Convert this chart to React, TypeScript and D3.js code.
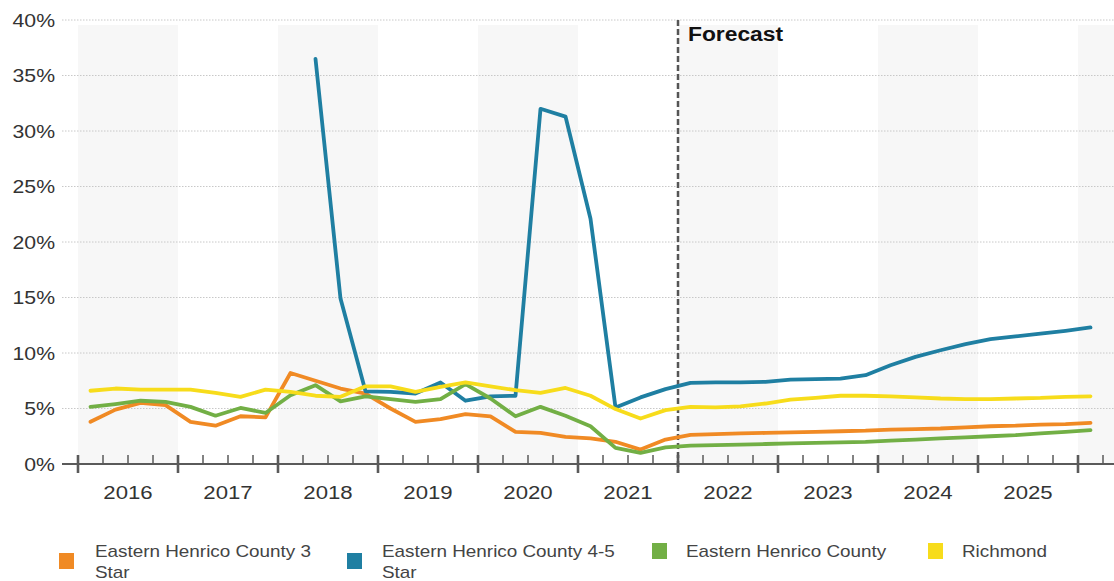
import React from "react";
import * as d3 from "d3";

const years = [2016, 2017, 2018, 2019, 2020, 2021, 2022, 2023, 2024, 2025, 2026];
const yTicks = [0, 5, 10, 15, 20, 25, 30, 35, 40];
const forecastStart = 2022;

const orange3Star = [
  3.8, 4.9, 5.5, 5.3,
  3.8, 3.45, 4.3, 4.2,
  8.2, 7.5, 6.8, 6.35,
  5.0, 3.8, 4.05, 4.5,
  4.3, 2.9, 2.8, 2.45,
  2.3, 2.0, 1.3, 2.2,
  2.62, 2.7, 2.75, 2.8,
  2.85, 2.9, 2.95, 3.0,
  3.1, 3.15, 3.2, 3.3,
  3.4, 3.45, 3.55, 3.6,
  3.7,
];
const blue45Star = [
  null, null, null, null,
  null, null, null, null,
  null, 36.5, 14.9, 6.55,
  6.5, 6.35, 7.35, 5.7,
  6.1, 6.15, 32.0, 31.3,
  22.1, 5.1, 6.0, 6.75,
  7.3, 7.35, 7.35, 7.4,
  7.6, 7.65, 7.7, 8.0,
  8.9, 9.65, 10.25, 10.8,
  11.25, 11.5, 11.75, 12.0,
  12.3,
];
const greenCounty = [
  5.15, 5.4, 5.7, 5.6,
  5.15, 4.35, 5.05, 4.6,
  6.2, 7.1, 5.65, 6.1,
  5.85, 5.6, 5.85, 7.2,
  5.9, 4.3, 5.15, 4.35,
  3.4, 1.45, 1.0, 1.5,
  1.65, 1.7, 1.75, 1.8,
  1.85, 1.9, 1.95, 2.0,
  2.1, 2.2, 2.3, 2.4,
  2.5, 2.6, 2.75, 2.9,
  3.05,
];
const yellowRichmond = [
  6.6, 6.8, 6.7, 6.7,
  6.7, 6.4, 6.05, 6.7,
  6.5, 6.15, 6.05, 7.0,
  7.0, 6.5, 6.95, 7.35,
  7.0, 6.65, 6.4, 6.85,
  6.15, 4.95, 4.1, 4.85,
  5.15, 5.1, 5.2, 5.45,
  5.8, 5.95, 6.15, 6.15,
  6.1, 6.0, 5.9, 5.85,
  5.85, 5.9, 5.95, 6.05,
  6.1,
];

const seriesNames = [
  ["Eastern Henrico County 3", "Star"],
  ["Eastern Henrico County 4-5", "Star"],
  ["Eastern Henrico County"],
  ["Richmond"],
];
const seriesColors = ["#F08A24", "#1F7FA2", "#72AF45", "#F7DC1B"];
const seriesData = [orange3Star, blue45Star, greenCounty, yellowRichmond];

const FONT = "'Liberation Sans', Arial, sans-serif";
const SX = 1.18;

function SText({ x, y, anchor = "start", size, weight = "normal", fill, sx = SX, children }: any) {
  return (
    <text
      transform={`translate(${x},${y}) scale(${sx},1)`}
      textAnchor={anchor}
      fontFamily={FONT}
      fontSize={size}
      fontWeight={weight}
      fill={fill}
    >
      {children}
    </text>
  );
}

export default function App() {
  const W = 1114;
  const H = 581;
  const x = d3.scaleLinear().domain([2016, 2026]).range([78, 1078]);
  const y = d3.scaleLinear().domain([0, 40]).range([464, 20]);
  const plotLeft = 62;
  const plotRight = W;

  const tq = (i: number) => 2016 + (i + 0.5) / 4;
  const line = d3
    .line<any>()
    .defined((d: any) => d != null)
    .x((_d: any, i: number) => x(tq(i)))
    .y((d: any) => y(d));

  const quarterTicks = d3.range(0, 42).map((k) => 2016 + k / 4);

  const legendItems = [
    { sq: 59, tx: 95, two: true },
    { sq: 347, tx: 382, two: true },
    { sq: 652, tx: 686, two: false },
    { sq: 928, tx: 962, two: false },
  ];

  return (
    <svg width={W} height={H} style={{ position: "absolute", left: 0, top: 0, background: "#fff" }}>
      {/* shaded year bands */}
      {years.map((yr) =>
        yr % 2 === 0 ? (
          <rect
            key={"b" + yr}
            x={x(yr)}
            y={25}
            width={Math.min(x(yr + 1), plotRight) - x(yr)}
            height={y(0) - 25}
            fill="#f7f7f7"
          />
        ) : null
      )}
      {/* grid lines */}
      {yTicks
        .filter((t) => t > 0)
        .map((t) => (
          <line
            key={"g" + t}
            x1={plotLeft}
            x2={plotRight}
            y1={y(t)}
            y2={y(t)}
            stroke="#c8c8c8"
            strokeWidth={1}
            strokeDasharray="1.5,1.5"
          />
        ))}
      {/* y labels */}
      {yTicks.map((t) => (
        <SText key={"yl" + t} x={55} y={y(t) + 6.5} anchor="end" size={18} fill="#333">
          {t + "%"}
        </SText>
      ))}
      {/* forecast line */}
      <line
        x1={x(forecastStart)}
        x2={x(forecastStart)}
        y1={y(40)}
        y2={473}
        stroke="#555"
        strokeWidth={2.5}
        strokeDasharray="6,3"
      />
      <SText x={x(forecastStart) + 10} y={41} size={19.5} weight="bold" fill="#111" sx={1.17}>
        Forecast
      </SText>
      {/* series lines */}
      {seriesData.map((s, k) => (
        <path
          key={"s" + k}
          d={line(s as any) || ""}
          fill="none"
          stroke={seriesColors[k]}
          strokeWidth={3.8}
          strokeLinejoin="round"
          strokeLinecap="round"
        />
      ))}
      {/* x axis */}
      <line x1={plotLeft} x2={plotRight} y1={y(0)} y2={y(0)} stroke="#5a5a5a" strokeWidth={2} />
      {quarterTicks.map((t, k) =>
        k % 4 === 0 ? (
          <line key={"t" + k} x1={x(t)} x2={x(t)} y1={455} y2={473} stroke="#5a5a5a" strokeWidth={2.6} />
        ) : (
          <line key={"t" + k} x1={x(t)} x2={x(t)} y1={455} y2={y(0)} stroke="#5a5a5a" strokeWidth={1.5} />
        )
      )}
      {years
        .filter((yr) => yr < 2026)
        .map((yr) => (
          <SText key={"xl" + yr} x={x(yr + 0.5)} y={499} anchor="middle" size={18.8} fill="#333">
            {String(yr)}
          </SText>
        ))}
      {/* legend */}
      {legendItems.map((it, k) => (
        <g key={"l" + k}>
          <rect
            x={it.sq}
            y={it.two ? 553 : 543}
            width={15}
            height={16}
            fill={seriesColors[k]}
          />
          {seriesNames[k].map((ln, j) => (
            <SText key={j} x={it.tx} y={557 + j * 21} size={16} fill="#444">
              {ln}
            </SText>
          ))}
        </g>
      ))}
    </svg>
  );
}
